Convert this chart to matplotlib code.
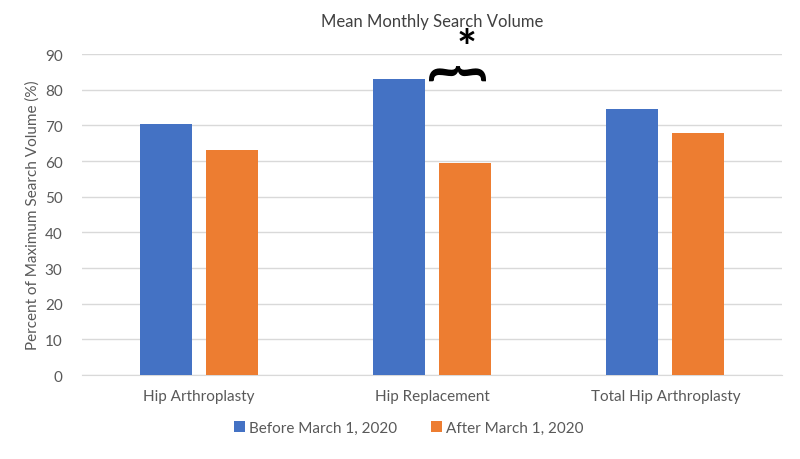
import numpy as np
import matplotlib
matplotlib.use("Agg")
import matplotlib.pyplot as plt

plt.rcParams['font.family'] = ['Lato', 'DejaVu Sans']

categories = ['Hip Arthroplasty', 'Hip Replacement', 'Total Hip Arthroplasty']
before = [70.5, 83.0, 74.6]
after = [63.1, 59.4, 67.8]
series_names = ['Before March 1, 2020', 'After March 1, 2020']
yticks = [0, 10, 20, 30, 40, 50, 60, 70, 80, 90]

fig = plt.figure(figsize=(8, 4.6), dpi=100)
ax = fig.add_axes([0.1025, 0.1826, 0.875, 0.6976])

x = np.arange(len(categories))
w = 0.223
off = 0.142
ax.bar(x - off, before, w, color='#4472C4', label=series_names[0], zorder=3)
ax.bar(x + off, after, w, color='#ED7D31', label=series_names[1], zorder=3)

ax.set_xlim(-0.5, 2.5)
ax.set_ylim(0, 90)
ax.set_yticks(yticks)
ax.set_xticks(x)
ax.set_xticklabels(categories)
ax.grid(axis='y', color='#d9d9d9', linewidth=1, zorder=0)
for s in ['top', 'right', 'left']:
    ax.spines[s].set_visible(False)
ax.spines['bottom'].set_color('#d9d9d9')
ax.tick_params(length=0, colors='#595959', labelsize=11)
ax.tick_params(axis='x', pad=10)
ax.tick_params(axis='y', pad=14)
ax.set_ylabel('Percent of Maximum Search Volume (%)', color='#595959', fontsize=11)

ax.set_title('Mean Monthly Search Volume', color='#404040', fontsize=12, pad=20)

# significance brace and asterisk
ax.text(1.11, 85.3, '}', rotation=90, fontsize=44, fontweight='bold',
        ha='center', va='center', clip_on=False)
ax.text(1.15, 91.3, '*', fontsize=34, fontweight='bold',
        ha='center', va='center', clip_on=False)

ax.legend(loc='upper center', bbox_to_anchor=(0.467, -0.1), ncol=2, frameon=False,
          fontsize=11, handlelength=0.7, handleheight=0.7, handletextpad=0.3,
          columnspacing=2.2, labelcolor='#595959')

fig.savefig('out.png', dpi=100)
